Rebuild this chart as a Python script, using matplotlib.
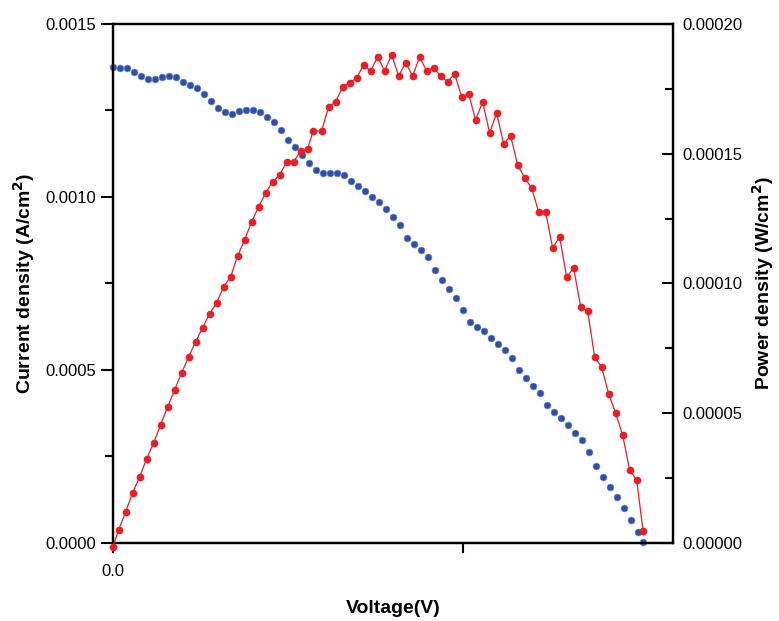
import matplotlib
matplotlib.use("Agg")
import matplotlib.pyplot as plt
from matplotlib.ticker import MultipleLocator

plt.rcParams['font.family'] = ['Liberation Sans', 'DejaVu Sans']

# Current density (left axis), blue
voltage_j = [0.000, 0.005, 0.010, 0.015, 0.020, 0.025, 0.030, 0.035, 0.040, 0.045,
             0.050, 0.055, 0.060, 0.065, 0.070, 0.075, 0.080, 0.085, 0.090, 0.095,
             0.100, 0.105, 0.110, 0.115, 0.120, 0.125, 0.130, 0.135, 0.140, 0.145,
             0.150, 0.155, 0.160, 0.165, 0.170, 0.175, 0.180, 0.185, 0.190, 0.195,
             0.200, 0.205, 0.210, 0.215, 0.220, 0.225, 0.230, 0.235, 0.240, 0.245,
             0.250, 0.255, 0.260, 0.265, 0.270, 0.275, 0.280, 0.285, 0.290, 0.295,
             0.300, 0.305, 0.310, 0.315, 0.320, 0.325, 0.330, 0.335, 0.340, 0.345,
             0.350, 0.355, 0.360, 0.365, 0.370, 0.375, 0.3786]
current = [0.001376, 0.001373, 0.001373, 0.001361, 0.001350, 0.001341, 0.001341, 0.001347,
           0.001350, 0.001347, 0.001332, 0.001324, 0.001315, 0.001298, 0.001277, 0.001257,
           0.001246, 0.001240, 0.001249, 0.001251, 0.001251, 0.001246, 0.001231, 0.001217,
           0.001194, 0.001165, 0.001145, 0.001121, 0.001098, 0.001078, 0.001069, 0.001069,
           0.001069, 0.001064, 0.001046, 0.001032, 0.001017, 0.001000, 0.000986, 0.000965,
           0.000942, 0.000919, 0.000881, 0.000864, 0.000847, 0.000827, 0.000789, 0.000760,
           0.000734, 0.000708, 0.000673, 0.000639, 0.000624, 0.000613, 0.000592, 0.000575,
           0.000558, 0.000535, 0.000500, 0.000477, 0.000454, 0.000434, 0.000399, 0.000379,
           0.000361, 0.000341, 0.000318, 0.000298, 0.000263, 0.000223, 0.000191, 0.000162,
           0.000133, 0.000101, 0.000066, 0.000032, 0.000003]

# Power density (right axis), red
voltage_p = [0.000, 0.004, 0.009, 0.014, 0.019, 0.024, 0.029, 0.034, 0.039, 0.044,
             0.049, 0.054, 0.059, 0.064, 0.069, 0.074, 0.079, 0.084, 0.089, 0.094,
             0.099, 0.104, 0.109, 0.114, 0.119, 0.124, 0.129, 0.134, 0.139, 0.143,
             0.149, 0.154, 0.159, 0.164, 0.169, 0.174, 0.179, 0.184, 0.189, 0.194,
             0.199, 0.204, 0.209, 0.214, 0.219, 0.224, 0.229, 0.234, 0.239, 0.244,
             0.249, 0.254, 0.259, 0.264, 0.269, 0.274, 0.279, 0.284, 0.289, 0.294,
             0.299, 0.304, 0.309, 0.314, 0.319, 0.324, 0.329, 0.334, 0.339, 0.344,
             0.349, 0.354, 0.359, 0.364, 0.369, 0.374, 0.3786]
power = [-1.5e-6, 5.0e-6, 1.19e-5, 1.93e-5, 2.54e-5, 3.24e-5, 3.85e-5, 4.55e-5, 5.24e-5,
         5.90e-5, 6.55e-5, 7.17e-5, 7.75e-5, 8.29e-5, 8.83e-5, 9.25e-5, 9.87e-5, 1.025e-4,
         1.106e-4, 1.168e-4, 1.237e-4, 1.295e-4, 1.349e-4, 1.391e-4, 1.418e-4, 1.468e-4,
         1.468e-4, 1.511e-4, 1.518e-4, 1.588e-4, 1.588e-4, 1.680e-4, 1.700e-4, 1.757e-4,
         1.773e-4, 1.792e-4, 1.842e-4, 1.819e-4, 1.873e-4, 1.819e-4, 1.881e-4, 1.800e-4,
         1.850e-4, 1.800e-4, 1.873e-4, 1.819e-4, 1.831e-4, 1.800e-4, 1.777e-4, 1.808e-4,
         1.719e-4, 1.730e-4, 1.630e-4, 1.700e-4, 1.580e-4, 1.657e-4, 1.538e-4, 1.569e-4,
         1.457e-4, 1.407e-4, 1.368e-4, 1.276e-4, 1.276e-4, 1.137e-4, 1.179e-4, 1.025e-4,
         1.060e-4, 9.10e-5, 8.94e-5, 7.17e-5, 6.78e-5, 5.74e-5, 5.01e-5, 4.16e-5, 2.81e-5,
         2.43e-5, 4.6e-6]

x_ticks = [0.0, 0.25]
x_tick_labels = ['0.0', '']

fig = plt.figure(figsize=(7.79, 6.21), dpi=100)
ax = fig.add_axes([0.145, 0.1256, 0.719, 0.8358])
ax2 = ax.twinx()

ax.plot(voltage_j, current, 'o', color='#3050a8', markersize=5, markeredgewidth=0.4,
        markeredgecolor='#7f93cf', clip_on=False, zorder=3)
ax2.plot(voltage_p, power, '-o', color='#ee1c24', lw=0.9, markersize=5.5,
         markeredgewidth=0, clip_on=False, zorder=3)

ax.set_xlim(0, 0.4)
ax.set_ylim(0, 0.0015)
ax2.set_ylim(0, 0.0002)

ax.set_xticks(x_ticks)
ax.set_xticklabels(x_tick_labels)
ax.yaxis.set_major_locator(MultipleLocator(0.0005))
ax.yaxis.set_minor_locator(MultipleLocator(0.00025))
ax.yaxis.set_major_formatter(lambda v, p: f"{v:.4f}")
ax2.yaxis.set_major_locator(MultipleLocator(0.00005))
ax2.yaxis.set_minor_locator(MultipleLocator(0.000025))
ax2.yaxis.set_major_formatter(lambda v, p: f"{v:.5f}")

ax.tick_params(axis='x', direction='out', length=7, width=1.5, labelsize=12, pad=8,
               top=False)
ax.tick_params(axis='y', which='major', direction='out', length=9, width=1.5,
               labelsize=12, pad=3)
ax.tick_params(axis='y', which='minor', direction='out', length=6, width=1.5)
ax2.tick_params(axis='y', which='major', direction='in', length=8, width=1.5,
                labelsize=12, pad=7)
ax2.tick_params(axis='y', which='minor', direction='in', length=6, width=1.5)

for a in (ax, ax2):
    for s in a.spines.values():
        s.set_linewidth(1.6)

ax.set_xlabel('Voltage(V)', fontsize=14, fontweight='bold')
ax.xaxis.set_label_coords(0.5, -0.11)
ax.set_ylabel('Current density (A/cm$^\\mathbf{2}$)', fontsize=14, fontweight='bold')
ax.yaxis.set_label_coords(-0.135, 0.5)
ax2.set_ylabel('Power density (W/cm$^\\mathbf{2}$)', fontsize=14, fontweight='bold',
               rotation=90, va='top')
ax2.yaxis.set_label_coords(1.137, 0.5)

fig.savefig('out.png', dpi=100)
